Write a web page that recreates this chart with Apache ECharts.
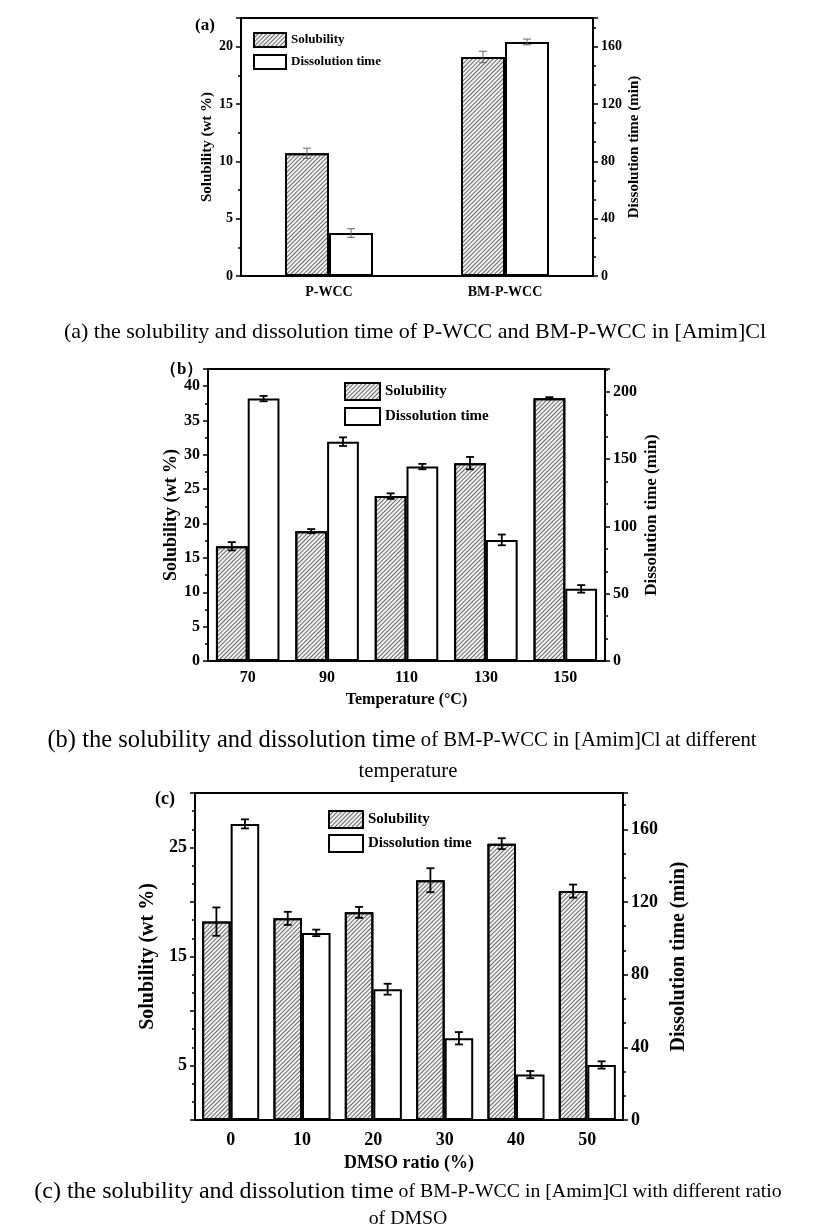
<!DOCTYPE html>
<html>
<head>
<meta charset="utf-8">
<script src="https://cdn.jsdelivr.net/npm/echarts@6/dist/echarts.min.js"></script>
<style>
  html, body { margin: 0; padding: 0; background: #fff; }
  #main { width: 817px; height: 1231px; }
</style>
</head>
<body>
<div id="main"></div>
<script>
// panel (a)
const catA = ['P-WCC', 'BM-P-WCC']
const solA = [10.7, 19.1]
const solErrA = [0.45, 0.5]
const timeA = [30, 163.3]
const timeErrA = [3, 2]

// panel (b)
const catB = ['70', '90', '110', '130', '150']
const solB = [16.7, 18.9, 24.0, 28.8, 38.25]
const solErrB = [0.6, 0.3, 0.4, 0.9, 0.15]
const timeB = [195, 163, 144.5, 90, 53.6]
const timeErrB = [2, 3.2, 2, 4, 2.8]

// panel (c)
const catC = ['0', '10', '20', '30', '40', '50']
const solC = [18.2, 18.5, 19.05, 22.0, 25.35, 21.0]
const solErrC = [1.3, 0.6, 0.5, 1.1, 0.5, 0.6]
const timeC = [163, 103, 72, 45, 25, 30.3]
const timeErrC = [2.5, 1.8, 3, 3.4, 2, 2]

const FONT = '"Liberation Serif", "Times New Roman", serif'

// diagonal hatch "////"
const hatch = {
  symbol: 'rect',
  symbolSize: 1,
  dashArrayX: [1, 0],
  dashArrayY: [1, 2],
  rotation: -Math.PI / 4,
  color: '#6a6a6a'
}

function errSeries(vals, errs, xIdx, yIdx, offset, color, width) {
  return {
    type: 'custom',
    xAxisIndex: xIdx,
    yAxisIndex: yIdx,
    z: 10,
    silent: true,
    data: vals.map((v, i) => [i, v, errs[i]]),
    encode: { x: 0, y: 1 },
    renderItem(params, api) {
      const i = api.value(0)
      const v = api.value(1)
      const e = api.value(2)
      const band = api.size([1, 0])[0]
      const cx = api.coord([i, v])[0] + offset * band
      const hi = api.coord([i, v + e])[1]
      const lo = api.coord([i, v - e])[1]
      const cap = 4
      const st = { stroke: color, lineWidth: width }
      return {
        type: 'group',
        children: [
          { type: 'line', shape: { x1: cx, y1: hi, x2: cx, y2: lo }, style: st },
          { type: 'line', shape: { x1: cx - cap, y1: hi, x2: cx + cap, y2: hi }, style: st },
          { type: 'line', shape: { x1: cx - cap, y1: lo, x2: cx + cap, y2: lo }, style: st }
        ]
      }
    }
  }
}

function valAxis(gridIdx, pos, max, interval, split, fs, nameFs, nameGap, fmt) {
  return {
    type: 'value',
    gridIndex: gridIdx,
    position: pos,
    min: 0,
    max: max,
    interval: interval,
    name: pos === 'left' ? 'Solubility (wt %)' : 'Dissolution time (min)',
    nameLocation: 'middle',
    nameRotate: 90,
    nameGap: nameGap,
    nameTextStyle: { fontFamily: FONT, fontWeight: 'bold', color: '#000', fontSize: nameFs },
    axisLine: { show: true, lineStyle: { color: '#000', width: 2 } },
    axisTick: { show: true, length: 5, lineStyle: { color: '#000', width: 1.5 } },
    minorTick: { show: true, splitNumber: split, length: 3, lineStyle: { color: '#000', width: 1.5 } },
    splitLine: { show: false },
    axisLabel: { fontFamily: FONT, fontWeight: 'bold', color: '#000', fontSize: fs,
      showMaxLabel: false, formatter: fmt }
  }
}

function catAxis(gridIdx, data, fs, name, nameGap, margin) {
  return {
    type: 'category',
    gridIndex: gridIdx,
    data: data,
    name: name,
    nameLocation: 'middle',
    nameGap: nameGap,
    nameTextStyle: { fontFamily: FONT, fontWeight: 'bold', color: '#000', fontSize: fs },
    axisLine: { lineStyle: { color: '#000', width: 2 } },
    axisTick: { alignWithLabel: true, length: 4, lineStyle: { color: '#000', width: 1.5 } },
    axisLabel: { fontFamily: FONT, fontWeight: 'bold', color: '#000', fontSize: fs, margin: margin }
  }
}

function barPair(xIdx, ySol, yTime, sol, time, bw) {
  return [
    {
      name: 'Solubility', type: 'bar', xAxisIndex: xIdx, yAxisIndex: ySol,
      barWidth: bw, barGap: '0%', data: sol,
      itemStyle: { color: '#f2f2f2', borderColor: '#000', borderWidth: 2, decal: hatch }
    },
    {
      name: 'Dissolution time', type: 'bar', xAxisIndex: xIdx, yAxisIndex: yTime,
      barWidth: bw, barGap: '0%', data: time,
      itemStyle: { color: '#fff', borderColor: '#000', borderWidth: 2 }
    }
  ]
}

function legendAt(left, top, fs, w, h, gap) {
  return {
    left: left, top: top, orient: 'vertical', padding: 0,
    itemWidth: w, itemHeight: h, itemGap: gap,
    icon: 'rect',
    data: ['Solubility', 'Dissolution time'],
    textStyle: { fontFamily: FONT, fontWeight: 'bold', fontSize: fs, color: '#000' },
    selectedMode: false
  }
}

function caption(text, x, y, rich) {
  return {
    type: 'text', x: x, y: y,
    style: { text: text, rich: rich, align: 'center', verticalAlign: 'middle',
      font: '20px ' + FONT, fill: '#000' }
  }
}

const richB = {
  big: { fontFamily: FONT, fontSize: 24.5, color: '#000' },
  small: { fontFamily: FONT, fontSize: 20.7, color: '#000' }
}
const richC = {
  big: { fontFamily: FONT, fontSize: 24, color: '#000' },
  small: { fontFamily: FONT, fontSize: 19.8, color: '#000' }
}

const chart = echarts.init(document.getElementById('main'))
chart.setOption({
  backgroundColor: '#fff',
  animation: false,
  grid: [
    { left: 241, right: 224, top: 18, height: 258, show: true, borderColor: '#000', borderWidth: 2 },
    { left: 208, right: 212, top: 369, height: 292, show: true, borderColor: '#000', borderWidth: 2 },
    { left: 195, right: 194, top: 793, height: 327, show: true, borderColor: '#000', borderWidth: 2 }
  ],
  legend: [
    legendAt(253, 32, 13, 32, 14, 6),
    legendAt(344, 382, 15, 35, 17, 6),
    legendAt(328, 810, 15, 34, 17, 5)
  ],
  xAxis: [
    catAxis(0, catA, 14, '', 28, 9),
    catAxis(1, catB, 16, 'Temperature (°C)', 31, 9),
    catAxis(2, catC, 18, 'DMSO ratio (%)', 34, 11)
  ],
  yAxis: [
    valAxis(0, 'left', 22.5, 5, 2, 14, 15, 26),
    valAxis(0, 'right', 180, 40, 3, 14, 15, 34),
    valAxis(1, 'left', 42.5, 5, 2, 16, 18, 27),
    valAxis(1, 'right', 217, 50, 3, 16, 17, 38),
    valAxis(2, 'left', 30, 5, 3, 18, 20, 23, v => ([5, 15, 25].includes(v) ? String(v) : '')),
    valAxis(2, 'right', 180, 40, 3, 18, 20, 42)
  ],
  series: [
    ...barPair(0, 0, 1, solA, timeA, '25%'),
    ...barPair(1, 2, 3, solB, timeB, '40%'),
    ...barPair(2, 4, 5, solC, timeC, '40%'),
    errSeries(solA, solErrA, 0, 0, -0.125, '#666', 1),
    errSeries(timeA, timeErrA, 0, 1, 0.125, '#666', 1),
    errSeries(solB, solErrB, 1, 2, -0.2, '#000', 1.8),
    errSeries(timeB, timeErrB, 1, 3, 0.2, '#000', 1.8),
    errSeries(solC, solErrC, 2, 4, -0.2, '#000', 1.8),
    errSeries(timeC, timeErrC, 2, 5, 0.2, '#000', 1.8)
  ],
  graphic: [
    { type: 'text', x: 195, y: 17, style: { text: '(a)', font: 'bold 17px ' + FONT, fill: '#000' } },
    { type: 'text', x: 160, y: 361, style: { text: '（b）', font: 'bold 17px ' + FONT, fill: '#000' } },
    { type: 'text', x: 155, y: 790, style: { text: '(c)', font: 'bold 18px ' + FONT, fill: '#000' } },
    caption('{a|(a) the solubility and dissolution time of P-WCC and BM-P-WCC in [Amim]Cl}', 415, 332,
      { a: { fontFamily: FONT, fontSize: 22, color: '#000' } }),
    caption('{big|(b) the solubility and dissolution time}{small| of BM-P-WCC in [Amim]Cl at different}', 402, 741, richB),
    caption('{small|temperature}', 408, 772, richB),
    caption('{big|(c) the solubility and dissolution time}{small| of BM-P-WCC in [Amim]Cl with different ratio}', 408, 1192, richC),
    caption('{small|of DMSO}', 408, 1219, richC)
  ]
})
</script>
</body>
</html>
